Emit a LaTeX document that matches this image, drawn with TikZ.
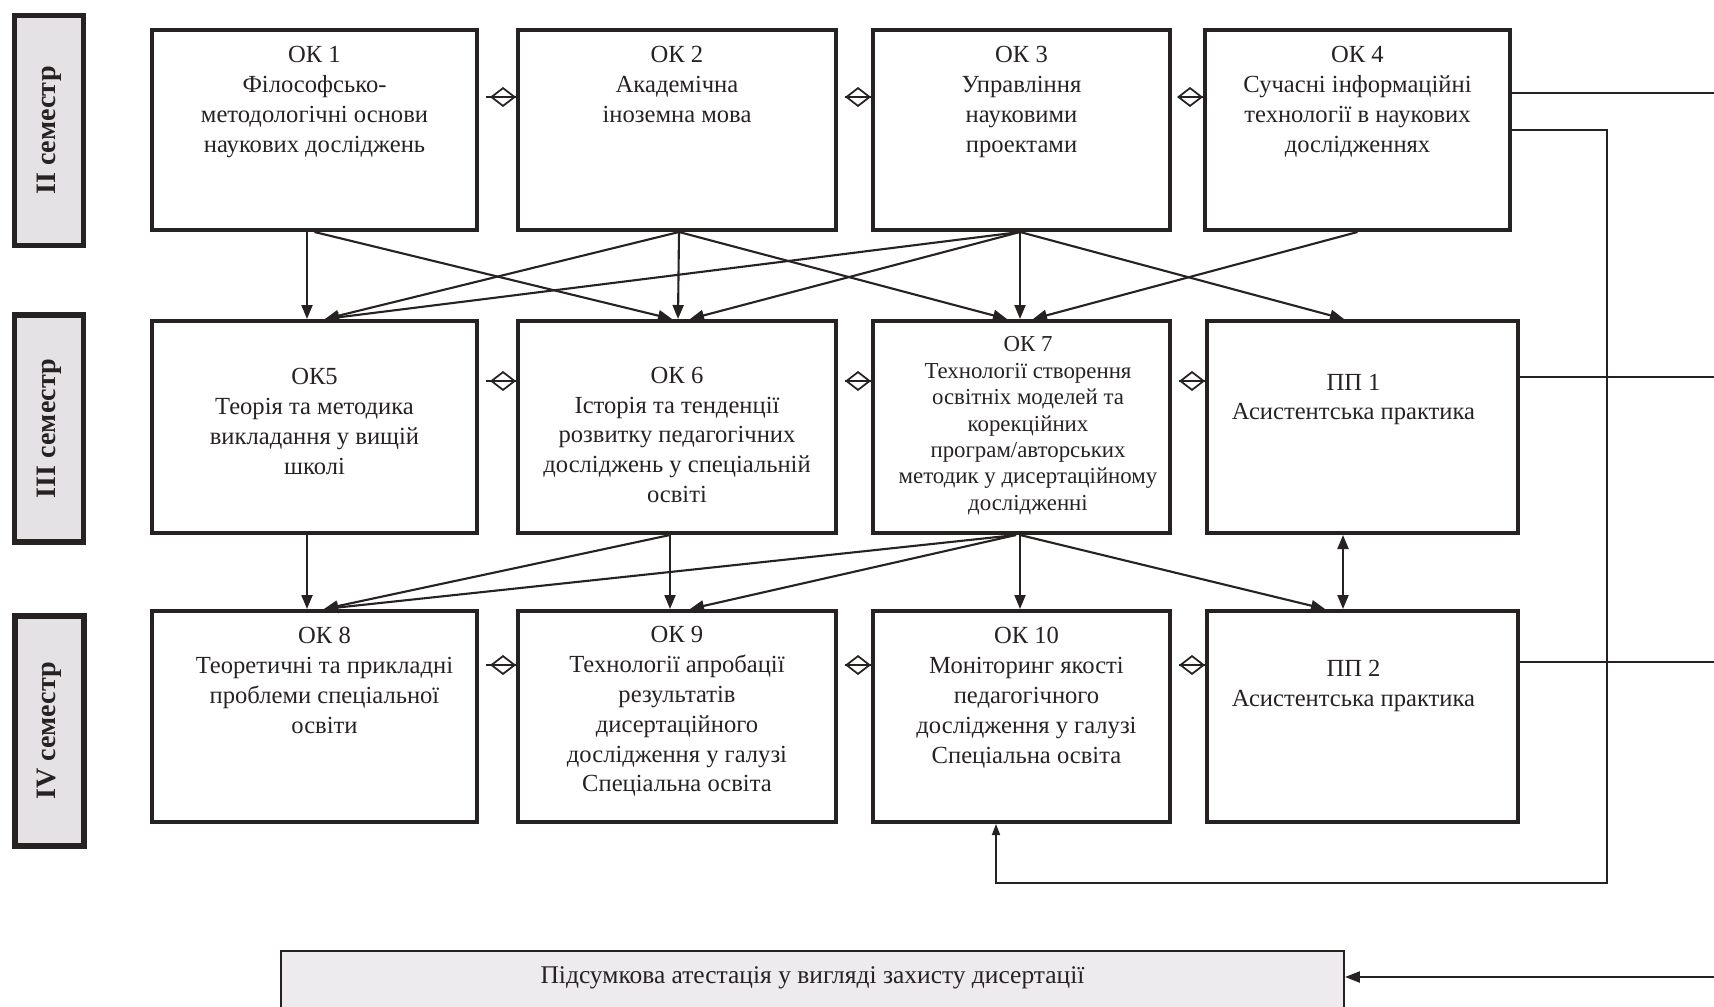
\documentclass[tikz,border=0pt]{standalone}
\usepackage{fontspec}
\setmainfont{Liberation Serif}
\usetikzlibrary{arrows.meta,positioning}

\definecolor{ink}{RGB}{38,34,34}
\definecolor{semfill}{RGB}{228,226,228}
\definecolor{attfill}{RGB}{237,235,237}

\begin{document}
\begin{tikzpicture}[x=0.02cm,y=-0.02cm,
    box/.style={draw=ink,line width=2.3pt,inner sep=0pt},
    sem/.style={draw=ink,line width=3pt,fill=semfill,rotate=90,minimum height=1.38cm,
      text=ink,font=\fontsize{16}{19}\selectfont\bfseries},
    txt/.style={align=center,inner sep=0pt,text=ink,font=\fontsize{14}{17}\selectfont},
    link/.style={draw=ink,line width=1.2pt,-{Triangle[length=0.28cm,width=0.22cm]}},
    dia/.style={draw=ink,line width=1pt,shorten <=0.14cm,
      -{Diamond[open,length=0.52cm,width=0.4cm]},postaction={draw=ink,-}},
    wire/.style={draw=ink,line width=0.9pt}]

        \clip (0,0) rectangle (1714,1007);

        % semesters
        \node[sem,minimum width=4.6cm]  (sem2) at (49,130.5) {II семестр};
        \node[sem,minimum width=4.54cm] (sem3) at (49,428.5) {III семестр};
        \node[sem,minimum width=4.6cm]  (sem4) at (49.5,731) {IV семестр};

        \begin{scope}[every node/.style={box}]
          \node[minimum width=6.5cm,minimum height=4cm]   (ok1)  at (314.5,130) {};
          \node[minimum width=6.36cm,minimum height=4cm]  (ok2)  at (677,130)   {};
          \node[minimum width=5.94cm,minimum height=4cm]  (ok3)  at (1021.5,130) {};
          \node[minimum width=6.1cm,minimum height=4cm]   (ok4)  at (1357.5,130) {};
          \node[minimum width=6.5cm,minimum height=4.24cm]  (ok5)  at (314.5,427) {};
          \node[minimum width=6.36cm,minimum height=4.24cm] (ok6)  at (677,427)   {};
          \node[minimum width=5.94cm,minimum height=4.24cm] (ok7)  at (1021.5,427) {};
          \node[minimum width=6.22cm,minimum height=4.24cm] (pp1)  at (1362.5,427) {};
          \node[minimum width=6.5cm,minimum height=4.22cm]  (ok8)  at (314.5,716.5) {};
          \node[minimum width=6.36cm,minimum height=4.22cm] (ok9)  at (677,716.5)   {};
          \node[minimum width=5.94cm,minimum height=4.22cm] (ok10) at (1021.5,716.5) {};
          \node[minimum width=6.22cm,minimum height=4.22cm] (pp2)  at (1362.5,716.5) {};
        \end{scope}

        \node[draw=ink,line width=1.2pt,fill=attfill,minimum width=21.26cm,minimum height=1.56cm]
          (att) at (812.5,990) {};

        \begin{scope}[every node/.style={txt}]
          \node[below=0.36cm of ok1.north] (ok1t) {ОК 1\\Філософсько-\\методологічні основи\\наукових досліджень};
          \node[below=0.36cm of ok2.north] (ok2t) {ОК 2\\Академічна\\іноземна мова};
          \node[below=0.36cm of ok3.north] (ok3t) {ОК 3\\Управління\\науковими\\проектами};
          \node[below=0.36cm of ok4.north] (ok4t) {ОК 4\\Сучасні інформаційні\\технології в наукових\\дослідженнях};
          \node[below=0.98cm of ok5.north] (ok5t) {ОК5\\Теорія та методика\\викладання у вищій\\школі};
          \node[below=0.95cm of ok6.north] (ok6t) {ОК 6\\Історія та тенденції\\розвитку педагогічних\\досліджень у спеціальній\\освіті};
          \node[below=0.35cm of ok7.north,xshift=0.13cm,font=\fontsize{13}{15}\selectfont] (ok7t)
            {ОК 7\\Технології створення\\освітніх моделей та\\корекційних\\програм/авторських\\методик у дисертаційному\\дослідженні};
          \node[below=1.09cm of pp1.north,xshift=-0.18cm] (pp1t) {ПП 1\\Асистентська практика};
          \node[below=0.36cm of ok8.north,xshift=0.2cm] (ok8t) {ОК 8\\Теоретичні та прикладні\\проблеми спеціальної\\освіти};
          \node[below=0.34cm of ok9.north] (ok9t) {ОК 9\\Технології апробації\\результатів\\дисертаційного\\дослідження у галузі\\Спеціальна освіта};
          \node[below=0.36cm of ok10.north,xshift=0.1cm] (ok10t) {ОК 10\\Моніторинг якості\\педагогічного\\дослідження у галузі\\Спеціальна освіта};
          \node[below=1.02cm of pp2.north,xshift=-0.18cm] (pp2t) {ПП 2\\Асистентська практика};
          \node[below=0.33cm of att.north,font=\fontsize{14.5}{17}\selectfont] (attt)
            {Підсумкова атестація у вигляді захисту дисертації};
        \end{scope}

        % between semesters
        \begin{scope}[every edge/.style={link}]
          \path ([xshift=-0.15cm]ok1.south) edge ([xshift=-0.15cm]ok5.north);
          \path (ok1.south)                 edge ([xshift=-0.1cm]ok6.north);
          \path ([xshift=0.04cm]ok2.south)  edge ([xshift=0.21cm]ok5.north);
          \path ([xshift=0.04cm]ok2.south)  edge ([xshift=0.02cm]ok6.north);
          \path ([xshift=0.04cm]ok2.south)  edge ([xshift=-0.29cm]ok7.north);
          \path ([xshift=-0.03cm]ok3.south) edge ([xshift=0.21cm]ok5.north);
          \path ([xshift=-0.03cm]ok3.south) edge ([xshift=0.26cm]ok6.north);
          \path ([xshift=-0.03cm]ok3.south) edge ([xshift=-0.03cm]ok7.north);
          \path ([xshift=-0.03cm]ok3.south) edge ([xshift=-0.37cm]pp1.north);
          \path (ok4.south)                 edge ([xshift=0.23cm]ok7.north);
          \path ([xshift=-0.15cm]ok5.south) edge ([xshift=-0.15cm]ok8.north);
          \path ([xshift=-0.14cm]ok6.south) edge ([xshift=0.19cm]ok8.north);
          \path ([xshift=-0.14cm]ok6.south) edge ([xshift=-0.14cm]ok9.north);
          \path ([xshift=-0.11cm]ok7.south) edge ([xshift=0.19cm]ok8.north);
          \path ([xshift=-0.11cm]ok7.south) edge ([xshift=0.26cm]ok9.north);
          \path ([xshift=-0.03cm]ok7.south) edge ([xshift=-0.03cm]ok10.north);
          \path ([xshift=-0.03cm]ok7.south) edge ([xshift=-0.75cm]pp2.north);
          \path ([xshift=-0.39cm]pp2.north) edge[{Triangle[length=0.28cm,width=0.22cm]}-{Triangle[length=0.28cm,width=0.22cm]}]
                ([xshift=-0.39cm]pp1.south);
        \end{scope}

        % within a semester
        \draw[dia] ([yshift=0.66cm]ok1.east) -- ([yshift=0.66cm]ok2.west);
        \draw[dia] ([yshift=0.66cm]ok2.east) -- ([yshift=0.66cm]ok3.west);
        \draw[dia] ([yshift=0.66cm]ok3.east) -- ([yshift=0.66cm]ok4.west);
        \draw[dia] ([yshift=0.92cm]ok5.east) -- ([yshift=0.92cm]ok6.west);
        \draw[dia] ([yshift=0.92cm]ok6.east) -- ([yshift=0.92cm]ok7.west);
        \draw[dia] ([yshift=0.92cm]ok7.east) -- ([yshift=0.92cm]pp1.west);
        \draw[dia] ([yshift=1.03cm]ok8.east) -- ([yshift=1.03cm]ok9.west);
        \draw[dia] ([yshift=1.03cm]ok9.east) -- ([yshift=1.03cm]ok10.west);
        \draw[dia] ([yshift=1.03cm]ok10.east) -- ([yshift=1.03cm]pp2.west);

        % right side
        \coordinate (e1) at (1720,93);
        \coordinate (e2) at (1720,377);
        \coordinate (e3) at (1720,662);
        \coordinate (e4) at (1720,977);
        \coordinate (loop) at (1607,883);
        \draw[wire] (ok4.east |- e1) -- (e1);
        \draw[wire] (pp1.east |- e2) -- (e2);
        \draw[wire] (pp2.east |- e3) -- (e3);
        \draw[wire,-{Triangle[length=0.22cm,width=0.16cm]}] (ok4.east) -| (loop) -| ([xshift=-0.51cm]ok10.south);
        \draw[wire,line width=1.3pt,-{Triangle[length=0.3cm,width=0.22cm]}] (e4) -- (att.east |- e4);

      \end{tikzpicture}
\end{document}
